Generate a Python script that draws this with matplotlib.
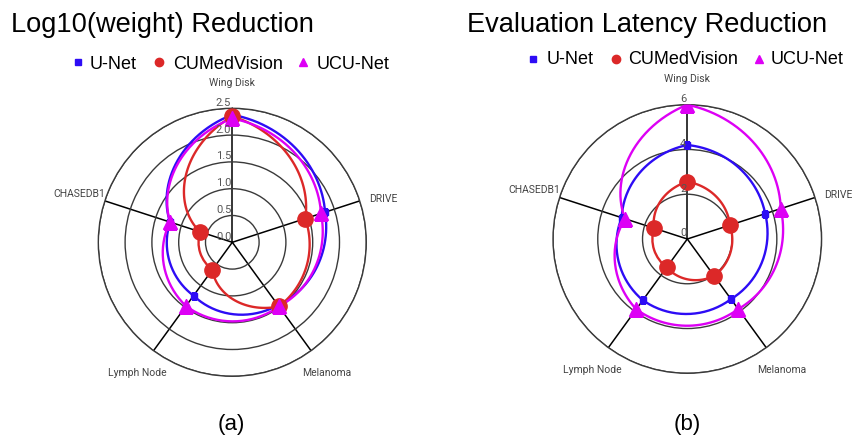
import matplotlib.pyplot as plt
import matplotlib.transforms as mtransforms
from matplotlib.lines import Line2D
import numpy as np

# Datasets on the radar spokes (clockwise from the top)
categories = ["Wing Disk", "DRIVE", "Melanoma", "Lymph Node", "CHASEDB1"]
models = ["U-Net", "CUMedVision", "UCU-Net"]

# (a) log10 of the weight reduction
weight_unet = [2.38, 1.82, 1.45, 1.23, 1.22]
weight_cumed = [2.35, 1.43, 1.48, 0.63, 0.63]
weight_ucu = [2.31, 1.74, 1.48, 1.47, 1.22]
weight_ticks = [0.0, 0.5, 1.0, 1.5, 2.0, 2.5]
weight_ticklabels = ["0.0", "0.5", "1.0", "1.5", "2.0", "2.5"]

# (b) evaluation latency reduction
latency_unet = [4.2, 3.66, 3.32, 3.38, 3.08]
latency_cumed = [2.56, 2.0, 2.04, 1.56, 1.56]
latency_ucu = [6.0, 4.39, 3.87, 3.88, 2.92]
latency_ticks = [0, 2, 4, 6]
latency_ticklabels = ["0", "2", "4", "6"]

colors = ["#2d0cf5", "#dc2828", "#dd00f5"]
markers = ["s", "o", "^"]
msizes = [4.5, 11, 10]

W, H = 853, 439
fig = plt.figure(figsize=(W / 100, H / 100), dpi=100)


def px(x, y):
    # pixel position (from top-left) -> figure fraction
    return x / W, 1 - y / H


def radar(cx, cy, rad, series, ticks, ticklabels):
    ax = fig.add_axes([(cx - rad) / W, (H - cy - rad) / H, 2 * rad / W, 2 * rad / H],
                      projection="polar")
    ax.set_theta_zero_location("N")
    ax.set_theta_direction(-1)
    angles = np.arange(len(categories)) * 2 * np.pi / len(categories)
    rmax = ticks[-1]
    ax.set_ylim(0, rmax)

    ax.set_thetagrids(np.degrees(angles), [""] * len(categories))
    ax.xaxis.grid(True, color="black", lw=1.1)
    ax.set_rgrids(ticks[1:], [""] * (len(ticks) - 1))
    ax.yaxis.grid(True, color="#3a3a3a", lw=1.0)
    ax.spines["polar"].set_color("#3a3a3a")
    ax.spines["polar"].set_linewidth(1.0)
    ax.tick_params(length=0)

    th = np.append(angles, 2 * np.pi)
    for vals, c, m, ms in zip(series, colors, markers, msizes):
        r = np.append(vals, vals[0])
        ln, = ax.plot(th, r, color=c, lw=1.7, zorder=3)
        # follow the polar coordinates between points (curved segments)
        ln.get_path()._interpolation_steps = 60
        ax.plot(angles, vals, ls="none", marker=m, ms=ms, color=c, zorder=4)

    for a, name in zip(angles, categories):
        if name == "DRIVE":
            # left-anchored so it starts just outside the outer ring
            ax.text(a, rmax * 1.075, name, ha="left", va="center", fontsize=7.5,
                    color="#444444", family="Roboto", clip_on=False)
        else:
            ax.text(a, rmax * 1.2, name, ha="center", va="center", fontsize=7.5,
                    color="#444444", family="Roboto", clip_on=False)

    off = mtransforms.offset_copy(ax.transData, fig=fig, x=-1, y=6.5, units="dots")
    for t, lab in zip(ticks, ticklabels):
        ax.text(0, t, lab, transform=off, ha="right", va="center", fontsize=8,
                color="#555555", family="Roboto", zorder=5)
    return ax


radar(232.3, 243.3, 134, [weight_unet, weight_cumed, weight_ucu],
      weight_ticks, weight_ticklabels)
radar(687.3, 240.0, 134.3, [latency_unet, latency_cumed, latency_ucu],
      latency_ticks, latency_ticklabels)

# titles
fig.text(*px(11, 32), "Log10(weight) Reduction", fontsize=19.6,
         family="Liberation Sans", va="baseline")
fig.text(*px(467, 32), "Evaluation Latency Reduction", fontsize=19.6,
         family="Liberation Sans", va="baseline")

# legends
legend_ms = [4.3, 6, 5.2]
for mx, tx, my, ty in [([78, 159, 303], [90, 173, 317], 63, 69),
                       ([533, 616, 759], [547, 628, 771], 59.5, 64)]:
    for i in range(3):
        fig.add_artist(Line2D([mx[i] / W], [1 - my / H], transform=fig.transFigure,
                              marker=markers[i], ms=legend_ms[i], color=colors[i], ls="none"))
        fig.text(*px(tx[i], ty), models[i], fontsize=13, family="Liberation Sans",
                 va="baseline")

# panel letters
fig.text(*px(231, 425), "(a)", fontsize=16, family="Liberation Sans",
         ha="center", va="center")
fig.text(*px(687, 425), "(b)", fontsize=16, family="Liberation Sans",
         ha="center", va="center")

plt.savefig("out.png", dpi=100)
